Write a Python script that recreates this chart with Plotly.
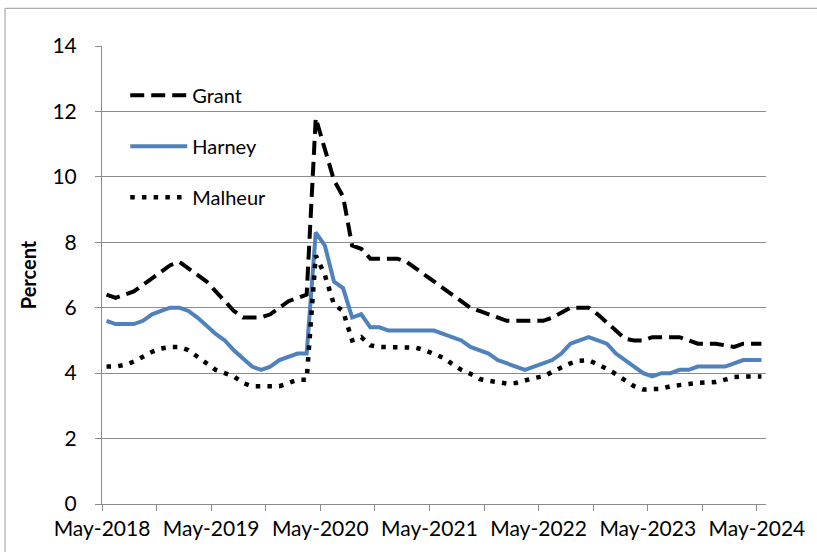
import plotly.graph_objects as go
import pandas as pd

# Monthly observations, May 2018 - May 2024
months = [d.strftime("%b-%Y") for d in pd.date_range("2018-05-01", "2024-05-01", freq="MS")]

grant = [6.4, 6.3, 6.4, 6.5, 6.7, 6.9, 7.1, 7.3, 7.4, 7.2, 7.0, 6.8, 6.5, 6.2, 5.9, 5.7, 5.7, 5.7, 5.8, 6.0, 6.2, 6.3, 6.4,
         11.8, 10.9, 9.9, 9.4, 7.9, 7.8, 7.5, 7.5, 7.5, 7.5, 7.4, 7.2, 7.0,
         6.8, 6.6, 6.4, 6.2, 6.0, 5.9, 5.8, 5.7, 5.6, 5.6, 5.6, 5.6, 5.6,
         5.7, 5.85, 6.0, 6.0, 6.0, 5.8, 5.55, 5.3, 5.05, 5.0, 5.0,
         5.1, 5.1, 5.1, 5.1, 5.0, 4.9, 4.9, 4.9, 4.85, 4.8, 4.9, 4.9, 4.9]

harney = [5.6, 5.5, 5.5, 5.5, 5.6, 5.8, 5.9, 6.0, 6.0, 5.9, 5.7, 5.45, 5.2, 5.0, 4.7, 4.45, 4.2, 4.1, 4.2, 4.4, 4.5, 4.6, 4.6,
          8.3, 7.9, 6.8, 6.6, 5.7, 5.8, 5.4, 5.4, 5.3, 5.3, 5.3, 5.3, 5.3, 5.3,
          5.2, 5.1, 5.0, 4.8, 4.7, 4.6, 4.4, 4.3, 4.2, 4.1, 4.2, 4.3, 4.4, 4.6, 4.9, 5.0, 5.1, 5.0, 4.9, 4.6, 4.4, 4.2, 4.0,
          3.9, 4.0, 4.0, 4.1, 4.1, 4.2, 4.2, 4.2, 4.2, 4.3, 4.4, 4.4, 4.4]

malheur = [4.2, 4.2, 4.25, 4.35, 4.5, 4.65, 4.75, 4.8, 4.8, 4.7, 4.5, 4.3, 4.1, 4.0, 3.9, 3.7, 3.6, 3.6, 3.6, 3.6, 3.7, 3.8, 3.8,
           7.6, 7.0, 6.1, 5.9, 5.0, 5.1, 4.85,
           4.8, 4.8, 4.8, 4.8, 4.78, 4.7, 4.6, 4.47, 4.28, 4.1,
           3.98, 3.82, 3.77, 3.72, 3.68, 3.7, 3.78, 3.85, 3.9, 4.02, 4.17, 4.3,
           4.38, 4.4, 4.28, 4.13, 3.97, 3.78, 3.6, 3.5, 3.5, 3.52, 3.6, 3.62,
           3.67, 3.7, 3.7, 3.73, 3.8, 3.88, 3.9, 3.9, 3.9]

y_ticks = [0, 2, 4, 6, 8, 10, 12, 14]

x = list(range(len(months)))
tickvals = [i - 0.5 for i in range(0, len(months), 6)]
ticktext = [months[i] if i % 12 == 0 else "" for i in range(0, len(months), 6)]

FONT = "Lato, Carlito, Calibri, sans-serif"
GRID = "#8c8c8c"

fig = go.Figure()
fig.add_trace(go.Scatter(x=x, y=grant, name="Grant", mode="lines", legendgroup="g",
                         line=dict(color="black", width=4, dash="14px,7px")))
fig.add_trace(go.Scatter(x=x, y=harney, name="Harney", mode="lines", legendgroup="h",
                         line=dict(color="#4F81BD", width=4)))
fig.add_trace(go.Scatter(x=x, y=malheur, name="Malheur", mode="lines", legendgroup="m",
                         line=dict(color="black", width=4.5, dash="4.5px,7.2px")))

fig.update_layout(
    width=817, height=552,
    margin=dict(l=102, r=51, t=46, b=48),
    paper_bgcolor="white", plot_bgcolor="white",
    font=dict(family=FONT, size=20, color="black"),
    showlegend=True,
    legend=dict(x=0.035, y=0.935, xanchor="left", yanchor="top",
                font=dict(family=FONT, size=20, color="black"),
                bgcolor="rgba(0,0,0,0)", traceorder="grouped", tracegroupgap=22,
                itemwidth=57),
    xaxis=dict(range=[-0.5, len(months) - 0.5], tickmode="array", tickvals=tickvals, ticktext=ticktext,
               showgrid=False, zeroline=False, showline=True, linecolor=GRID, linewidth=1,
               ticks="outside", ticklen=6, tickcolor=GRID, tickangle=0,
               tickfont=dict(family=FONT, size=21, color="black")),
    yaxis=dict(range=[0, 14], tickmode="array", tickvals=y_ticks,
               showgrid=True, gridcolor=GRID, gridwidth=1, zeroline=False,
               showline=True, linecolor=GRID, linewidth=1,
               ticks="outside", ticklen=6, tickcolor=GRID, ticklabelstandoff=14,
               tickfont=dict(family=FONT, size=21, color="black"),
               title=dict(text="<b>Percent</b>", standoff=10,
                          font=dict(family=FONT, size=20, color="black"))),
    shapes=[dict(type="rect", xref="paper", yref="paper", x0=-0.146, x1=1.09, y0=-0.13, y1=1.0823,
                 line=dict(color="#999999", width=1), fillcolor="rgba(0,0,0,0)", layer="below")],
)

fig.write_html("out.html", config={"displayModeBar": False},
               post_script="document.body.style.margin='0';document.body.style.overflow='hidden';")
